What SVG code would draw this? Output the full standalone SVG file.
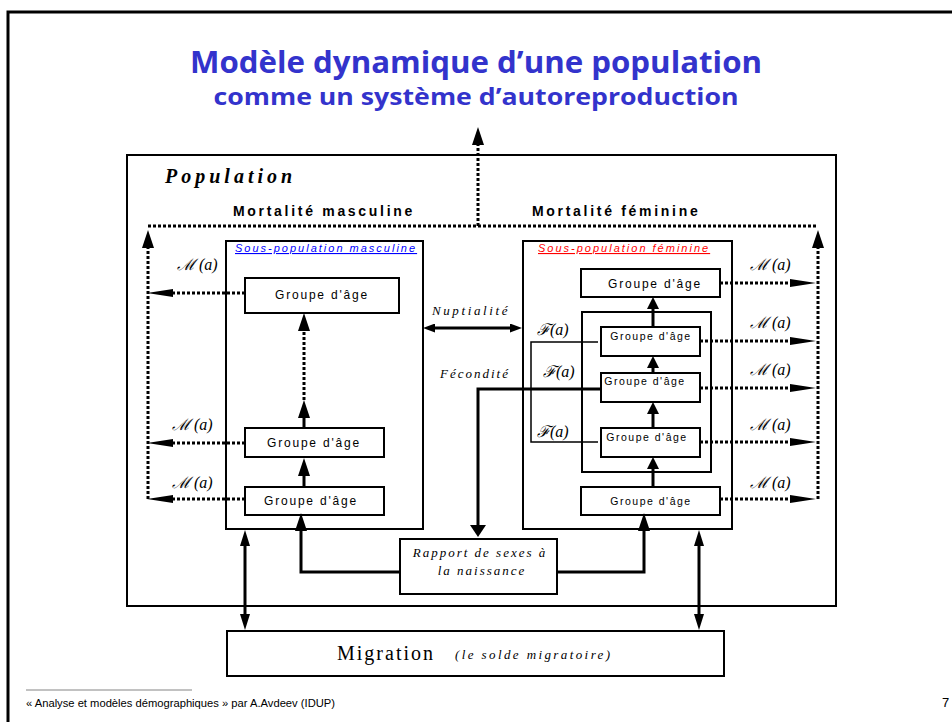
<svg xmlns="http://www.w3.org/2000/svg" width="952" height="722" viewBox="0 0 952 722">
<style>
.box{fill:#fff;stroke:#000;stroke-width:2}
.frame{fill:none;stroke:#000;stroke-width:2}
.dot{fill:none;stroke:#000;stroke-width:3;stroke-dasharray:3 2}
.solid{fill:none;stroke:#000;stroke-width:3}
.thin{fill:none;stroke:#000;stroke-width:1.5}
.grp{font-family:"Liberation Sans",Arial,sans-serif;font-size:12px;letter-spacing:1.8px;text-anchor:middle;fill:#000}
.grps{font-family:"Liberation Sans",Arial,sans-serif;font-size:10.5px;letter-spacing:1.5px;text-anchor:middle;fill:#000}
.ma{font-family:"Liberation Serif","DejaVu Serif",serif;font-style:italic;font-size:16px;fill:#000}
.it{font-family:"Liberation Serif",serif;font-style:italic;fill:#000}
.mort{font-family:"Liberation Sans",Arial,sans-serif;font-weight:bold;font-size:14px;letter-spacing:2.7px;fill:#000}
.sub{font-family:"Liberation Sans",Arial,sans-serif;font-style:italic;font-size:11px;letter-spacing:2px;text-decoration:underline}
</style>
<defs>
<marker id="aLong" markerUnits="userSpaceOnUse" markerWidth="26" markerHeight="8" refX="0" refY="4" orient="auto"><path d="M0,0 L26,4 L0,8 z" fill="#000"/></marker>
<marker id="aMid" markerUnits="userSpaceOnUse" markerWidth="18" markerHeight="12" refX="0" refY="6" orient="auto-start-reverse"><path d="M0,0 L18,6 L0,12 z" fill="#000"/></marker>
<marker id="aSm" markerUnits="userSpaceOnUse" markerWidth="12" markerHeight="12" refX="0" refY="6" orient="auto"><path d="M0,0 L12,6 L0,12 z" fill="#000"/></marker>
<marker id="aNup" markerUnits="userSpaceOnUse" markerWidth="12" markerHeight="9" refX="0" refY="4.5" orient="auto-start-reverse"><path d="M0,0 L12,4.5 L0,9 z" fill="#000"/></marker>
<marker id="aWide" markerUnits="userSpaceOnUse" markerWidth="12" markerHeight="16" refX="0" refY="8" orient="auto"><path d="M0,0 L12,8 L0,16 z" fill="#000"/></marker>
<marker id="aMig" markerUnits="userSpaceOnUse" markerWidth="16" markerHeight="10" refX="0" refY="5" orient="auto-start-reverse"><path d="M0,0 L16,5 L0,10 z" fill="#000"/></marker>
</defs>
<rect width="952" height="722" fill="#fff"/>
<path d="M8,722 V12 H952" fill="none" stroke="#000" stroke-width="3"/>
<g id="title">
<text x="476" y="73" font-family="'Open Sans','Liberation Sans',sans-serif" font-weight="700" font-size="31" fill="#3333CC" text-anchor="middle" textLength="572" lengthAdjust="spacingAndGlyphs">Modèle dynamique d’une population</text>
<text x="476" y="105" font-family="'Open Sans','Liberation Sans',sans-serif" font-weight="700" font-size="23" fill="#3333CC" text-anchor="middle" textLength="525" lengthAdjust="spacingAndGlyphs">comme un système d’autoreproduction</text>
</g>
<g id="population">
<rect class="frame" x="127" y="155" width="709" height="451"/>
<text x="165" y="183" font-family="'Liberation Serif',serif" font-weight="bold" font-style="italic" font-size="20" letter-spacing="4">Population</text>
<text class="mort" x="233" y="216">Mortalité masculine</text>
<text class="mort" x="532" y="216">Mortalité féminine</text>
</g>
<g id="male-subpop">
<rect class="frame" x="226" y="241" width="197" height="288"/>
<text class="sub" x="235" y="252" fill="#0000FF">Sous-population masculine</text>
</g>
<g id="female-subpop">
<rect class="frame" x="523" y="241" width="209" height="288"/>
<text class="sub" x="538" y="252" fill="#FF0000">Sous-population féminine</text>
</g>
<g id="female-fertile">
<rect class="frame" x="582" y="312" width="129" height="160"/>
</g>
<g id="m-g1"><rect class="box" x="245" y="278" width="154" height="35"/><text class="grp" x="322" y="299">Groupe d'âge</text></g>
<g id="m-g2"><rect class="box" x="245" y="428" width="139" height="29"/><text class="grp" x="314" y="447">Groupe d'âge</text></g>
<g id="m-g3"><rect class="box" x="245" y="487" width="139" height="28"/><text class="grp" x="311" y="505">Groupe d'âge</text></g>
<g id="f-g1"><rect class="box" x="581" y="269" width="139" height="28"/><text class="grp" x="655" y="288">Groupe d'âge</text></g>
<g id="f-g2"><rect class="box" x="601" y="327" width="99" height="29"/><text class="grps" x="651" y="340">Groupe d'âge</text></g>
<g id="f-g3"><rect class="box" x="601" y="373" width="99" height="29"/><text class="grps" x="645" y="385">Groupe d'âge</text></g>
<g id="f-g4"><rect class="box" x="601" y="428" width="99" height="29"/><text class="grps" x="647" y="441">Groupe d'âge</text></g>
<g id="f-g5"><rect class="box" x="581" y="487" width="139" height="28"/><text class="grps" x="651" y="505">Groupe d'âge</text></g>
<g id="rapport">
<rect class="box" x="400" y="539" width="157" height="55"/>
<text class="it" x="480" y="557" font-size="13" letter-spacing="2" text-anchor="middle">Rapport de sexes à</text>
<text class="it" x="482" y="575" font-size="13" letter-spacing="2" text-anchor="middle">la naissance</text>
</g>
<g id="migration">
<rect class="box" x="227" y="631" width="497" height="45"/>
<text x="337" y="660" font-family="'Liberation Serif',serif" font-size="20" letter-spacing="2">Migration</text>
<text class="it" x="455" y="659" font-size="13" letter-spacing="2.4">(le solde migratoire)</text>
</g>
<g id="labels">
<text class="ma" x="177" y="270">ℳ (a)</text>
<text class="ma" x="172" y="430">ℳ (a)</text>
<text class="ma" x="172" y="488">ℳ (a)</text>
<text class="ma" x="750" y="270">ℳ (a)</text>
<text class="ma" x="750" y="328">ℳ (a)</text>
<text class="ma" x="750" y="375">ℳ (a)</text>
<text class="ma" x="750" y="430">ℳ (a)</text>
<text class="ma" x="750" y="488">ℳ (a)</text>
<text class="ma" x="537" y="335">ℱ(a)</text>
<text class="ma" x="543" y="377">ℱ(a)</text>
<text class="ma" x="537" y="437">ℱ(a)</text>
<text class="it" x="432" y="315" font-size="13" letter-spacing="2.6">Nuptialité</text>
<text class="it" x="440" y="378" font-size="13" letter-spacing="2">Fécondité</text>
</g>
<g id="connectors">
<path class="dot" d="M148,226 H818"/>
<path class="dot" d="M478,226 V145" marker-end="url(#aMid)"/>
<path class="dot" d="M148,499 V248" marker-end="url(#aMid)"/>
<path class="dot" d="M818,499 V248" marker-end="url(#aMid)"/>
<path class="dot" d="M245,293 H173" marker-end="url(#aLong)"/>
<path class="dot" d="M245,443 H173" marker-end="url(#aLong)"/>
<path class="dot" d="M245,499 H173" marker-end="url(#aLong)"/>
<path class="dot" d="M720,283 H790" marker-end="url(#aLong)"/>
<path class="dot" d="M700,341 H790" marker-end="url(#aLong)"/>
<path class="dot" d="M700,388 H790" marker-end="url(#aLong)"/>
<path class="dot" d="M700,442 H790" marker-end="url(#aLong)"/>
<path class="dot" d="M720,499 H790" marker-end="url(#aLong)"/>
<path class="solid" d="M304,487 V476" marker-end="url(#aMid)"/>
<path class="solid" d="M304,428 V418" marker-end="url(#aMid)"/>
<path class="dot" d="M304,400 V331" marker-end="url(#aMid)"/>
<path class="solid" d="M653,487 V469" marker-end="url(#aSm)"/>
<path class="solid" d="M653,428 V414" marker-end="url(#aSm)"/>
<path class="solid" d="M653,373 V368" marker-end="url(#aSm)"/>
<path class="solid" d="M653,327 V309" marker-end="url(#aSm)"/>
<path class="solid" d="M435,328 H510" marker-start="url(#aNup)" marker-end="url(#aNup)"/>
<path class="solid" d="M601,389 H478 V525" marker-end="url(#aWide)"/>
<path class="thin" d="M598,342 H531 V442 H598"/>
<path class="solid" d="M400,572 H301 V531" marker-end="url(#aMid)"/>
<path class="solid" d="M557,572 H644 V531" marker-end="url(#aMid)"/>
<path class="solid" d="M245,546 V614" marker-start="url(#aMig)" marker-end="url(#aMig)"/>
<path class="solid" d="M699,546 V614" marker-start="url(#aMig)" marker-end="url(#aMig)"/>
</g>
<g id="footer">
<line x1="26" y1="690" x2="192" y2="690" stroke="#666" stroke-width="0.8"/>
<text x="26" y="707" font-family="'Liberation Sans Narrow','Liberation Sans',sans-serif" font-size="11" textLength="309" lengthAdjust="spacingAndGlyphs">« Analyse et modèles démographiques » par A.Avdeev (IDUP)</text>
<text x="942" y="707" font-family="'Liberation Sans',sans-serif" font-size="13">7</text>
</g>
</svg>
